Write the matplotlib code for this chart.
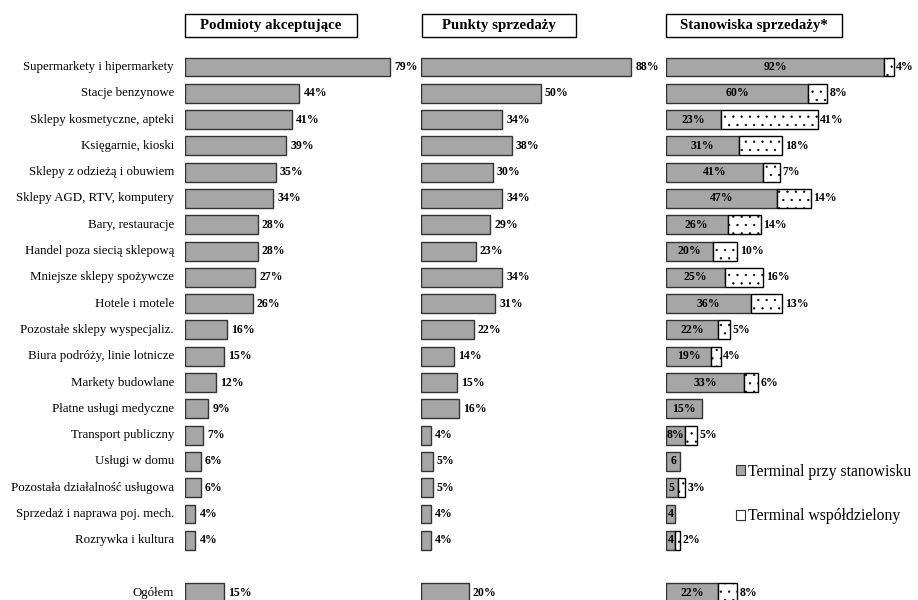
import matplotlib
matplotlib.use("Agg")
import matplotlib.pyplot as plt
from matplotlib.patches import Patch, Rectangle

plt.rcParams["font.family"] = ["Liberation Serif", "DejaVu Serif"]
plt.rcParams["hatch.linewidth"] = 0.4

CATEGORIES = [
    "Supermarkety i hipermarkety", "Stacje benzynowe", "Sklepy kosmetyczne, apteki",
    "Księgarnie, kioski", "Sklepy z odzieżą i obuwiem", "Sklepy AGD, RTV, komputery",
    "Bary, restauracje", "Handel poza siecią sklepową", "Mniejsze sklepy spożywcze",
    "Hotele i motele", "Pozostałe sklepy wyspecjaliz.", "Biura podróży, linie lotnicze",
    "Markety budowlane", "Płatne usługi medyczne", "Transport publiczny",
    "Usługi w domu", "Pozostała działalność usługowa", "Sprzedaż i naprawa poj. mech.",
    "Rozrywka i kultura", "Ogółem",
]
PODMIOTY = [79, 44, 41, 39, 35, 34, 28, 28, 27, 26, 16, 15, 12, 9, 7, 6, 6, 4, 4, 15]
PUNKTY = [88, 50, 34, 38, 30, 34, 29, 23, 34, 31, 22, 14, 15, 16, 4, 5, 5, 4, 4, 20]
STANOWISKO = [92, 60, 23, 31, 41, 47, 26, 20, 25, 36, 22, 19, 33, 15, 8, 6, 5, 4, 4, 22]
WSPOLNY = [4, 8, 41, 18, 7, 14, 14, 10, 16, 13, 5, 4, 6, 0, 5, 0, 3, 0, 2, 8]
TITLES = ["Podmioty akceptujące", "Punkty sprzedaży", "Stanowiska sprzedaży*"]
LEGEND = ["Terminal przy stanowisku", "Terminal współdzielony"]

GRAY = "#a6a6a6"
EDGE = "#333333"
W, H = 918, 600

# row positions: one empty row before "Ogółem"
ypos = list(range(len(CATEGORIES) - 1)) + [len(CATEGORIES)]

fig = plt.figure(figsize=(W / 100, H / 100), dpi=100)

def make_ax(left_px, px_per_pct, xmax):
    width_px = px_per_pct * xmax
    ax = fig.add_axes([left_px / W, 0, width_px / W, 550 / H])
    ax.set_xlim(0, xmax)
    ax.set_ylim(20.27, -0.646)
    ax.axis("off")
    return ax

ax1 = make_ax(185, 2.6, 90)
ax2 = make_ax(421, 2.39, 100)
ax3 = make_ax(666, 2.37, 100)

bh = 0.72
lab_kw = dict(va="center", fontsize=8.5, fontweight="bold")

for ax, vals, ppx in [(ax1, PODMIOTY, 2.6), (ax2, PUNKTY, 2.39)]:
    ax.barh(ypos, vals, height=bh, color=GRAY, edgecolor=EDGE, linewidth=1)
    for y, v in zip(ypos, vals):
        ax.text(v + 4 / ppx, y, f"{v}%", ha="left", **lab_kw)

for y, name in zip(ypos, CATEGORIES):
    ax1.text(-11 / 2.6, y, name, ha="right", va="center", fontsize=9.25)

ax3.barh(ypos, STANOWISKO, height=bh, color=GRAY, edgecolor=EDGE, linewidth=1)
shared = [(y, s, w) for y, s, w in zip(ypos, STANOWISKO, WSPOLNY) if w > 0]
ax3.barh([p[0] for p in shared], [p[2] for p in shared], left=[p[1] for p in shared],
         height=bh, color="white", edgecolor="black", linewidth=1, hatch="..")
for y, s, w in zip(ypos, STANOWISKO, WSPOLNY):
    ax3.text(s / 2, y, f"{s}%" if s >= 8 else str(s), ha="center", **lab_kw)
    if w > 0:
        ax3.text(s + w + 2.5 / 2.37, y, f"{w}%", ha="left", **lab_kw)

# title boxes
for (x0, x1), title in zip([(185, 357), (422, 576), (666, 842)], TITLES):
    fig.add_artist(Rectangle((x0 / W, 1 - 37 / H), (x1 - x0) / W, 23 / H,
                             transform=fig.transFigure, facecolor="white",
                             edgecolor="black", linewidth=1))
    fig.text((x0 + x1) / 2 / W, 1 - 25.5 / H, title, ha="center", va="center",
             fontsize=10.7, fontweight="bold")

handles = [Patch(facecolor=GRAY, edgecolor=EDGE, linewidth=0.8),
           Patch(facecolor="white", edgecolor=EDGE, linewidth=0.8)]
fig.legend(handles, LEGEND, loc="upper left", bbox_to_anchor=(728 / W, 1 - 456 / H),
           frameon=False, fontsize=11.3, handlelength=0.6, handleheight=0.6,
           handletextpad=0.2, labelspacing=1.8, borderpad=0)

fig.savefig("out.png", dpi=100)
